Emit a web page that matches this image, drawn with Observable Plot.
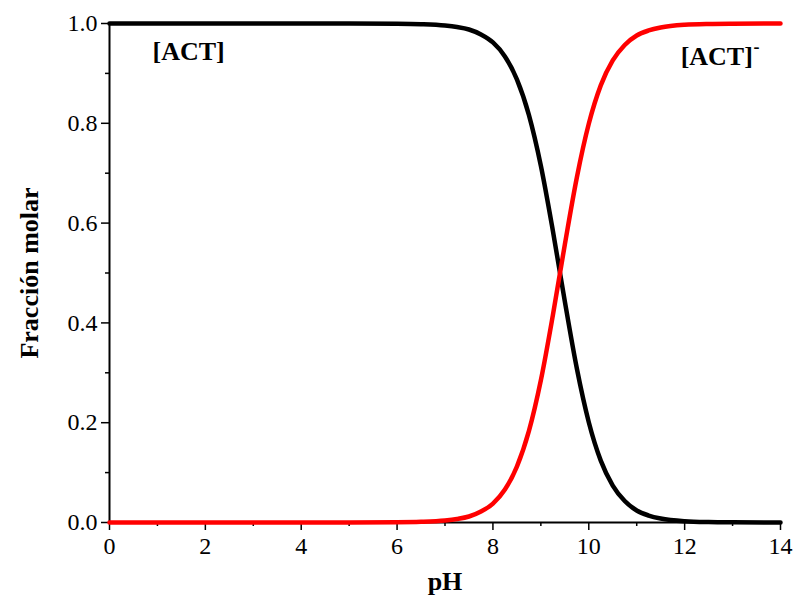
<!DOCTYPE html>
<html>
<head>
<meta charset="utf-8">
<script src="https://cdn.jsdelivr.net/npm/d3@7"></script>
<script src="https://cdn.jsdelivr.net/npm/@observablehq/plot@0.6"></script>
<style>
  html, body { margin: 0; padding: 0; background: #fff; }
</style>
</head>
<body>
<div id="chart"></div>
<script>
// Data
const pH = [0, 1, 2, 3, 4, 5, 6, 6.5, 7, 7.25, 7.5, 7.75, 8, 8.25, 8.5, 8.75, 9, 9.25, 9.5, 9.75, 10, 10.25, 10.5, 10.75, 11, 11.25, 11.5, 12, 12.5, 13, 14];
const fracACT = [1, 1, 1, 1, 1, 1, 0.9996, 0.9987, 0.996, 0.993, 0.988, 0.978, 0.962, 0.934, 0.888, 0.817, 0.715, 0.585, 0.443, 0.309, 0.201, 0.124, 0.074, 0.043, 0.024, 0.014, 0.008, 0.0025, 0.0008, 0.0003, 0];
const fracACTminus = [0, 0, 0, 0, 0, 0, 0.0004, 0.0013, 0.004, 0.007, 0.012, 0.022, 0.038, 0.066, 0.112, 0.183, 0.285, 0.415, 0.557, 0.691, 0.799, 0.876, 0.926, 0.957, 0.976, 0.986, 0.992, 0.9975, 0.9992, 0.9997, 1];
const xMajor = [0, 2, 4, 6, 8, 10, 12, 14];
const xMinor = [1, 3, 5, 7, 9, 11, 13];
const yMajor = [0, 0.2, 0.4, 0.6, 0.8, 1.0];
const yMinor = [0.1, 0.3, 0.5, 0.7, 0.9];
const labels = ["[ACT]", "[ACT]"];

const neutral = pH.map((p, i) => ({pH: p, f: fracACT[i]}));
const anion = pH.map((p, i) => ({pH: p, f: fracACTminus[i]}));

const font = "'Liberation Serif', 'Times New Roman', serif";

const chart = Plot.plot({
  width: 796,
  height: 604,
  marginLeft: 109,
  marginRight: 16,
  marginTop: 23,
  marginBottom: 82,
  style: {fontFamily: font, fontSize: "24px", color: "#000", background: "#fff"},
  x: {domain: [0, 14]},
  y: {domain: [0, 1]},
  marks: [
    Plot.axisX(xMinor, {tickSize: 4, strokeWidth: 1.5, text: null, label: null}),
    Plot.axisX(xMajor, {tickSize: 8, strokeWidth: 1.5, tickPadding: 6, label: null, fontSize: 24}),
    Plot.axisY(yMinor, {tickSize: 4, strokeWidth: 1.5, text: null, label: null}),
    Plot.axisY(yMajor, {tickSize: 8, strokeWidth: 1.5, tickPadding: 4, tickFormat: d3.format(".1f"), label: null, fontSize: 24}),
    Plot.ruleY([0], {stroke: "#000", strokeWidth: 2}),
    Plot.ruleX([0], {stroke: "#000", strokeWidth: 2}),
    Plot.line(neutral, {x: "pH", y: "f", stroke: "#000", strokeWidth: 4.5, curve: "monotone-x"}),
    Plot.line(anion, {x: "pH", y: "f", stroke: "#ff0000", strokeWidth: 4.5, curve: "monotone-x"}),
    Plot.text([labels[0]], {x: 1.65, y: 0.944, text: d => d, fontWeight: "bold", fontSize: 26}),
    Plot.text([labels[1]], {x: 12.67, y: 0.934, text: d => d, fontWeight: "bold", fontSize: 26}),
    Plot.text(["-"], {x: 13.5, y: 0.953, text: d => d, fontWeight: "bold", fontSize: 18}),
    Plot.text(["pH"], {frameAnchor: "bottom", dy: 67, text: d => d, fontWeight: "bold", fontSize: 26}),
    Plot.text(["Fracción molar"], {frameAnchor: "left", textAnchor: "middle", dx: -80, rotate: -90, text: d => d, fontWeight: "bold", fontSize: 26})
  ]
});
document.getElementById("chart").appendChild(chart);
</script>
</body>
</html>
